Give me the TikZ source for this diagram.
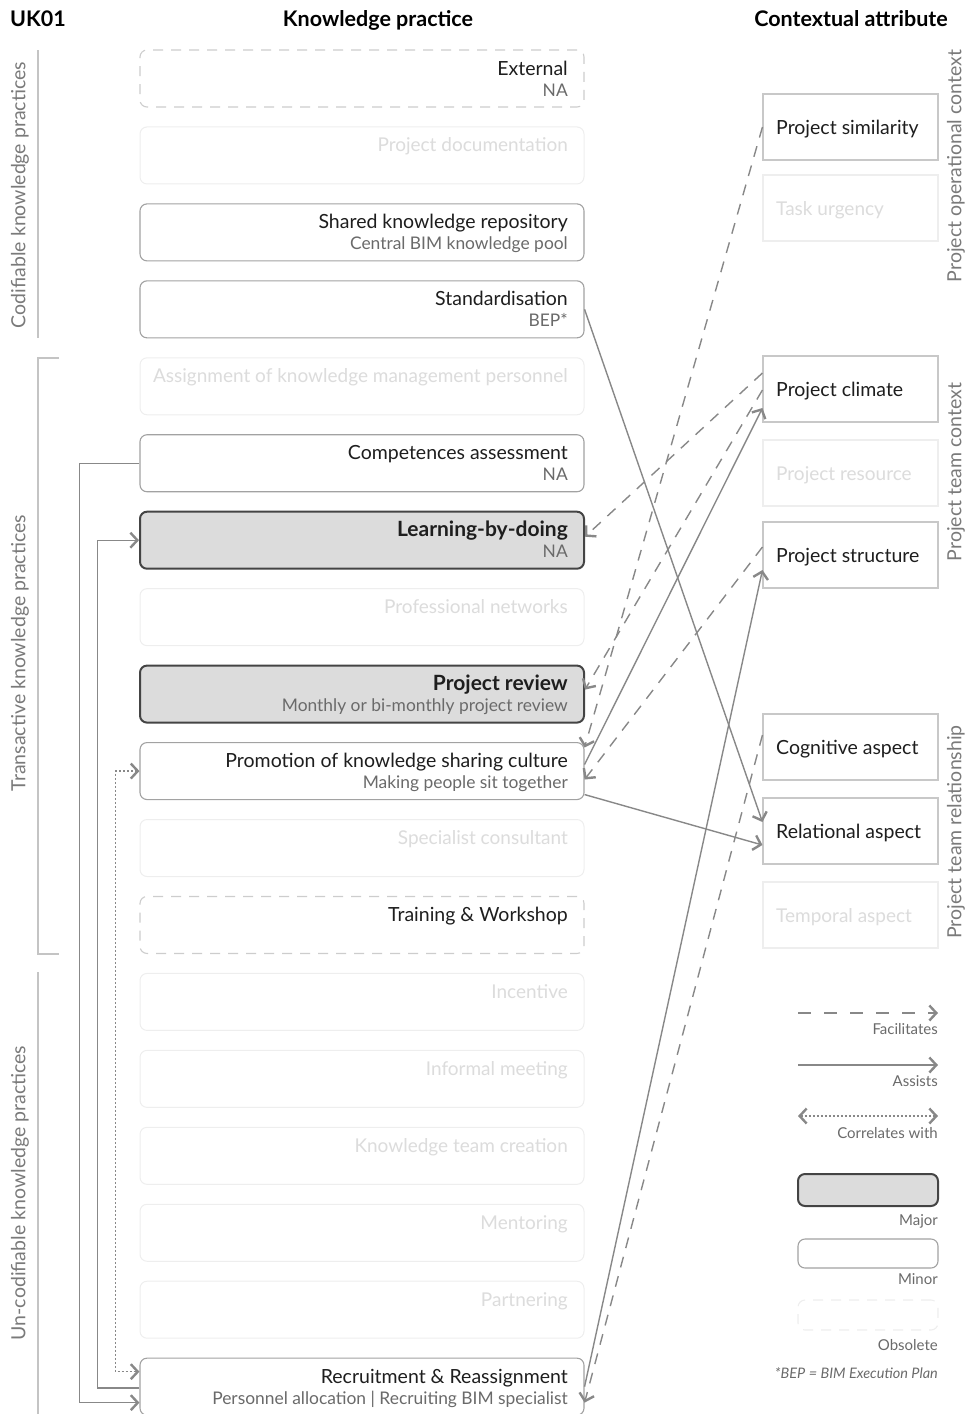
\documentclass[tikz,border=0pt]{standalone}
\usepackage{fontspec}
\setmainfont{Lato}
\usetikzlibrary{arrows.meta,calc}

\definecolor{ink}{HTML}{1E1E1E}
\definecolor{subink}{HTML}{6A6A6A}
\definecolor{frame}{HTML}{A2A2A2}
\definecolor{heavy}{HTML}{444444}
\definecolor{majorfill}{HTML}{DCDCDC}
\definecolor{ghost}{HTML}{EEEEEE}
\definecolor{ghosttext}{HTML}{DCDCDC}
\definecolor{link}{HTML}{888888}
\definecolor{rule}{HTML}{C4C4C4}
\definecolor{grouptext}{HTML}{7A7A7A}
\definecolor{attrframe}{HTML}{C8C8C8}
\definecolor{gonecol}{HTML}{CDCDCD}

\tikzset{
  kpbox/.style={draw=frame, line width=1.1pt, rounded corners=7pt, fill=white,
    minimum width=444pt, minimum height=57pt, inner sep=0pt},
  kpmajor/.style={kpbox, draw=heavy, line width=2pt, fill=majorfill},
  kpfaint/.style={kpbox, draw=ghost, line width=1pt},
  kpgone/.style={kpbox, draw=gonecol, dash pattern=on 10pt off 8pt},
  attr/.style={draw=attrframe, line width=1.1pt, fill=white,
    minimum width=175pt, minimum height=66pt, inner sep=0pt},
  attrfaint/.style={attr, draw=ghost},
  maintxt/.style={text=ink, font=\fontsize{19.5}{21}\selectfont, inner sep=0pt},
  subtxt/.style={text=subink, font=\fontsize{17.4}{19}\selectfont, inner sep=0pt},
  faintxt/.style={maintxt, text=ghosttext, font=\fontsize{19}{21}\selectfont},
  grouplbl/.style={text=grouptext, font=\fontsize{19.5}{21}\selectfont, inner sep=0pt, rotate=90},
  headlbl/.style={text=black, font=\bfseries\fontsize{21.5}{23}\selectfont, inner sep=0pt},
  legendlbl/.style={text=subink, font=\fontsize{15}{17}\selectfont, inner sep=0pt},
  barb/.tip={Straight Barb[length=7pt,width=15pt,line width=2.4pt]},
  facil/.style={draw=link, line width=1.4pt, dash pattern=on 11pt off 9pt, -barb},
  assist/.style={draw=link, line width=1.4pt, -barb},
  corr/.style={draw=link, line width=1.2pt, dash pattern=on 2pt off 2pt, barb-barb},
  bracket/.style={draw=rule, line width=1.2pt},
}

% knowledge-practice box: name, row, style, title, detail
\newcommand{\kpnode}[5]{%
  \node[#3] (#1) at (362,50+76.95*#2+28.5) {};
  \node[maintxt, anchor=base east] (#1-t) at (568,50+76.95*#2+25) {#4};
  \node[subtxt, anchor=base east] (#1-s) at (568,50+76.95*#2+46) {#5};
}
% practice not used in this case
\newcommand{\kpfaintnode}[3]{%
  \node[kpfaint] (#1) at (362,50+76.95*#2+28.5) {};
  \node[faintxt, anchor=base east] (#1-t) at (568,50+76.95*#2+25) {#3};
}
% contextual attribute box: name, top, style, text style, text
\newcommand{\attrnode}[5]{%
  \node[#3] (#1) at (850.5,#2+33) {};
  \node[#4, anchor=base west] (#1-t) at (776,#2+40) {#5};
}
\newcommand{\strongtitle}[1]{{\bfseries\fontsize{21}{23}\selectfont #1}}

\begin{document}
\begin{tikzpicture}[x=1pt,y=-1pt]
\useasboundingbox (0,0) rectangle (968,1414);

% headings
\node[headlbl, anchor=base west] (hcase) at (10,26) {UK01};
\node[headlbl, anchor=base] (hkp) at (378,26) {Knowledge practice};
\node[headlbl, anchor=base] (hca) at (851,26) {Contextual attribute};

% practice groups on the left
\draw[bracket] (38,50) -- (38,338);
\draw[bracket] (59,358) -- (38,358) -- (38,954) -- (59,954);
\draw[bracket] (38,972) -- (38,1414);
\node[grouplbl] (gcod) at (20,195) {Codifiable knowledge practices};
\node[grouplbl] (gtra) at (20,653) {Transactive knowledge practices};
\node[grouplbl] (gunc) at (20,1193) {Un-codifiable knowledge practices};

% knowledge practices
\kpnode{ext}{0}{kpgone}{External}{NA}
\kpfaintnode{doc}{1}{Project documentation}
\kpnode{repo}{2}{kpbox}{Shared knowledge repository}{Central BIM knowledge pool}
\kpnode{std}{3}{kpbox}{Standardisation}{BEP*}
\kpfaintnode{akm}{4}{Assignment of knowledge management personnel}
\kpnode{comp}{5}{kpbox}{Competences assessment}{NA}
\kpnode{lbd}{6}{kpmajor}{\strongtitle{Learning-by-doing}}{NA}
\kpfaintnode{pnet}{7}{Professional networks}
\kpnode{prev}{8}{kpmajor}{\strongtitle{Project review}}{Monthly or bi-monthly project review}
\kpnode{promo}{9}{kpbox}{Promotion of knowledge sharing culture}{Making people sit together}
\kpfaintnode{spec}{10}{Specialist consultant}
\kpnode{train}{11}{kpgone}{Training \& Workshop}{}
\kpfaintnode{inc}{12}{Incentive}
\kpfaintnode{inf}{13}{Informal meeting}
\kpfaintnode{ktc}{14}{Knowledge team creation}
\kpfaintnode{ment}{15}{Mentoring}
\kpfaintnode{part}{16}{Partnering}
\kpnode{rec}{17}{kpbox}{Recruitment \& Reassignment}{Personnel allocation | Recruiting BIM specialist}

% contextual attributes
\attrnode{sim}{94}{attr}{maintxt}{Project similarity}
\attrnode{urg}{175}{attrfaint}{faintxt}{Task urgency}
\attrnode{clim}{356}{attr}{maintxt}{Project climate}
\attrnode{res}{440}{attrfaint}{faintxt}{Project resource}
\attrnode{str}{522}{attr}{maintxt}{Project structure}
\attrnode{cog}{714}{attr}{maintxt}{Cognitive aspect}
\attrnode{rel}{798}{attr}{maintxt}{Relational aspect}
\attrnode{temp}{882}{attrfaint}{faintxt}{Temporal aspect}

\node[grouplbl] (gopc) at (956,166) {Project operational context};
\node[grouplbl] (gtmc) at (956,472) {Project team context};
\node[grouplbl] (gtmr) at (956,832) {Project team relationship};

% facilitates
\draw[facil] (sim.west) -- ([yshift=23.5pt]promo.east);
\draw[facil] ([yshift=16pt]clim.west) -- ([yshift=3.5pt]lbd.east);
\draw[facil] ([yshift=-1pt]clim.west) -- ([yshift=4.5pt]prev.east);
\draw[facil] ([yshift=8pt]str.west) -- ([yshift=-8.5pt]promo.east);
\draw[facil] ([yshift=12pt]cog.west) -- ([yshift=-16pt]rec.east);

% assists
\draw[assist] (std.east) -- ([yshift=9pt]rel.west);
\draw[assist] ([yshift=6.5pt]promo.east) -- ([yshift=-19pt]clim.west);
\draw[assist] ([yshift=-23.5pt]promo.east) -- ([yshift=-14pt]rel.west);
\draw[assist] (rec.east) -- ([yshift=-15pt]str.west);
\draw[assist] (comp.west) -- ++(-60,0) |- ([yshift=-16pt]rec.west);
\draw[assist] ([yshift=-1.5pt]rec.west) -- ++(-42,0) |- (lbd.west);

% correlates with
\draw[corr] (promo.west) -- ++(-24,0) |- ([yshift=15pt]rec.west);

% legend
\coordinate (lfa) at (798,1013); \coordinate (lfb) at (938,1013);
\coordinate (laa) at (798,1065); \coordinate (lab) at (938,1065);
\coordinate (lca) at (798,1116); \coordinate (lcb) at (938,1116);
\draw[facil, dash pattern=on 13pt off 13pt] (lfa) -- (lfb);
\draw[assist] (laa) -- (lab);
\draw[corr] (lca) -- (lcb);
\node[legendlbl, anchor=base east] (lfac) at (938,1034) {Facilitates};
\node[legendlbl, anchor=base east] (lass) at (938,1086) {Assists};
\node[legendlbl, anchor=base east] (lcor) at (938,1138) {Correlates with};

\node[kpmajor, minimum width=140pt, minimum height=32pt] (lmaj) at (868,1190) {};
\node[kpbox, minimum width=140pt, minimum height=29pt] (lmin) at (868,1253.5) {};
\node[kpgone, draw=ghost, minimum width=140pt, minimum height=30pt] (lobs) at (868,1315) {};
\node[legendlbl, anchor=base east] (lmajt) at (938,1225) {Major};
\node[legendlbl, anchor=base east] (lmint) at (938,1284) {Minor};
\node[legendlbl, anchor=base east] (lobst) at (938,1350) {Obsolete};
\node[legendlbl, font=\itshape\fontsize{14.5}{16}\selectfont, anchor=base east] (lbep) at (938,1378) {*BEP = BIM Execution Plan};

\end{tikzpicture}
\end{document}
